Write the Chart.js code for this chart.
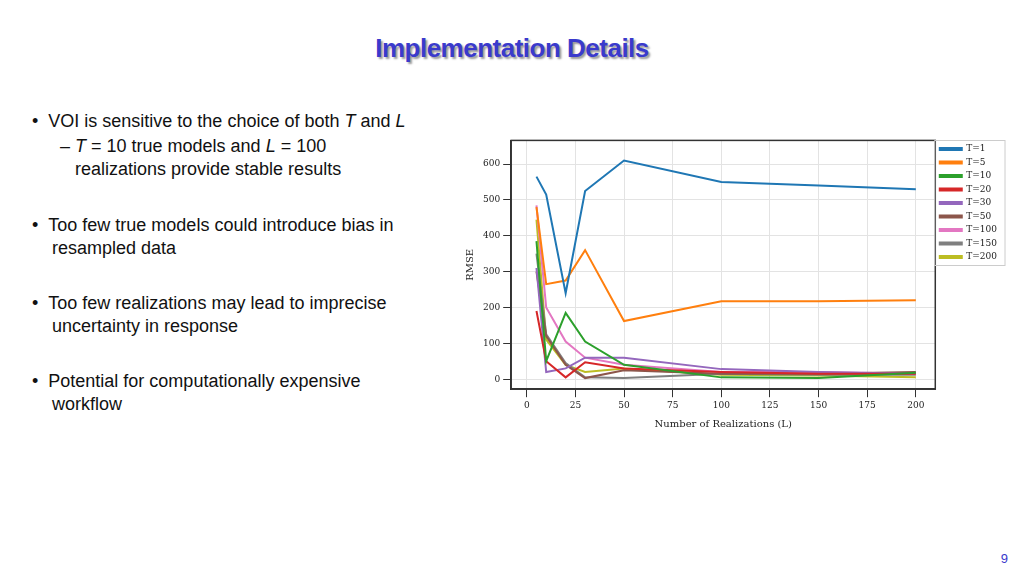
<!DOCTYPE html>
<html><head><meta charset="utf-8">
<script src="https://cdn.jsdelivr.net/npm/chart.js@4"></script>
<style>
body{margin:0;width:1024px;height:576px;background:#fff;position:relative;font-family:"Liberation Sans",Arial,sans-serif;overflow:hidden}
h1{position:absolute;top:33px;left:0;width:1024px;text-align:center;margin:0;font-size:26px;font-weight:bold;color:#3a3acc;text-shadow:2px 2px 2px #999;letter-spacing:-0.5px}
.t{position:absolute;font-size:18px;color:#111;line-height:23px}
#wrap{position:absolute;left:460px;top:132px;width:555px;height:302px}
.pg{position:absolute;right:16px;bottom:10px;font-size:13px;color:#3a3acc}
</style></head><body>
<h1>Implementation Details</h1>
<div class="t" style="left:32px;top:110px">•&nbsp;&nbsp;VOI is sensitive to the choice of both <i>T</i> and <i>L</i></div>
<div class="t" style="left:60px;top:135px">– <i>T</i> = 10 true models and <i>L</i> = 100<br>&nbsp;&nbsp;&nbsp;realizations provide stable results</div>
<div class="t" style="left:32px;top:214px">•&nbsp;&nbsp;Too few true models could introduce bias in<br>&nbsp;&nbsp;&nbsp;&nbsp;resampled data</div>
<div class="t" style="left:32px;top:292px">•&nbsp;&nbsp;Too few realizations may lead to imprecise<br>&nbsp;&nbsp;&nbsp;&nbsp;uncertainty in response</div>
<div class="t" style="left:32px;top:370px">•&nbsp;&nbsp;Potential for computationally expensive<br>&nbsp;&nbsp;&nbsp;&nbsp;workflow</div>
<div class="pg">9</div>
<div id="wrap"><canvas id="c"></canvas></div>
<script>
const L = [5,10,20,30,50,100,150,200];
const T1 = [565,515,240,525,610,550,540,530];
const T5 = [480,265,275,360,162,217,217,220];
const T10 = [385,50,185,105,40,5,3,18];
const T20 = [190,50,5,47,30,20,15,15];
const T30 = [310,20,30,60,60,28,20,15];
const T50 = [300,120,40,3,25,15,15,20];
const T100 = [485,200,105,60,40,20,20,15];
const T150 = [350,125,45,5,3,15,12,12];
const T200 = [445,110,40,20,30,12,10,5];
const names = ['T=1','T=5','T=10','T=20','T=30','T=50','T=100','T=150','T=200'];
const series = [T1,T5,T10,T20,T30,T50,T100,T150,T200];
const colors = ['#1f77b4','#ff7f0e','#2ca02c','#d62728','#9467bd','#8c564b','#e377c2','#7f7f7f','#bcbd22'];
const F = "'DejaVu Serif', 'Liberation Serif', serif";
const frame = {id:'frame', afterDraw(c){
  const g=c.ctx, a=c.chartArea; g.save(); g.strokeStyle='#333'; g.lineWidth=1.5;
  g.strokeRect(a.left,a.top,a.right-a.left,a.bottom-a.top);
  const lg=c.legend; if(lg&&lg.legendHitBoxes.length){
    const hb=lg.legendHitBoxes; const x0=hb[0].left-5, y0=hb[0].top-4;
    const w=Math.max(...hb.map(h=>h.left+h.width))-x0+8, h=hb[hb.length-1].top+hb[hb.length-1].height-y0+4;
    g.strokeStyle='#ccc'; g.lineWidth=1; g.strokeRect(x0,y0,w,h);}
  g.restore();}};
new Chart(document.getElementById('c'), {
  type:'line',
  data:{datasets: series.map((s,i)=>({label:names[i], data:L.map((x,j)=>({x, y:s[j]})), borderColor:colors[i], backgroundColor:colors[i], borderWidth:2, pointRadius:0, tension:0}))},
  options:{
    responsive:true, maintainAspectRatio:false, animation:false,
    layout:{padding:{top:8,right:8}},
    plugins:{legend:{position:'right', align:'start',
      labels:{font:{family:F,size:9},color:'#222',boxWidth:22,boxHeight:2,padding:4.5}},
      tooltip:{enabled:false}},
    scales:{
      x:{type:'linear',min:-8,max:210,
        afterBuildTicks:a=>{a.ticks=[0,25,50,75,100,125,150,175,200].map(v=>({value:v}));},
        title:{display:true,text:'Number of Realizations (L)',font:{family:F,size:10},color:'#222'},
        ticks:{font:{family:F,size:9},color:'#222'},
        grid:{color:'#e3e3e3',tickColor:'#333'}, border:{color:'#333',width:1.5}},
      y:{min:-28,max:666,
        afterBuildTicks:a=>{a.ticks=[0,100,200,300,400,500,600].map(v=>({value:v}));},
        title:{display:true,text:'RMSE',font:{family:F,size:10},color:'#222'},
        ticks:{font:{family:F,size:9},color:'#222'},
        grid:{color:'#e3e3e3',tickColor:'#333'}, border:{color:'#333',width:1.5}}
    }
  },
  plugins:[frame]
});
</script>
</body></html>
